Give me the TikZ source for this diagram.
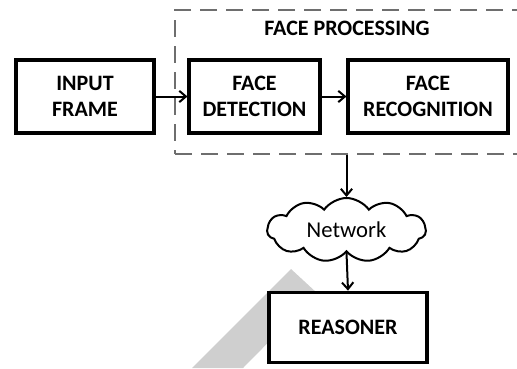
\documentclass[tikz,border=0pt]{standalone}
\usepackage{fontspec}
\setmainfont{Carlito}
\usetikzlibrary{arrows.meta,shapes.symbols}
\begin{document}
\begin{tikzpicture}[x=0.75pt,y=-0.75pt,
  blk/.style={draw=black,line width=2.3pt,fill=white,align=center,font=\bfseries\fontsize{16.5}{20}\selectfont,inner sep=0pt,minimum height=54.75pt},
  arr/.style={line width=1.5pt,-{Straight Barb[length=5pt,width=8.5pt,line width=1.5pt]}},
  grp/.style={draw=black!57,line width=2.1pt,dash pattern=on 13pt off 6.5pt,inner sep=0pt},
  wm/.style={fill=black!19,draw=none}]
\useasboundingbox (0,0) rectangle (517,368);
\clip (0,0) rectangle (517,368);
% watermark band
\fill[wm] (192,368) -- (291,269) -- (317,293) -- (243,368) -- cycle;
% group frame
\node[grp,minimum width=273.75pt,minimum height=108pt] (proc) at (357.5,82) {};
\node[font=\bfseries\fontsize{16.5}{20}\selectfont] (title) at (347,28) {FACE PROCESSING};
% blocks
\node[blk,minimum width=103.5pt] (input) at (85,96.5) {INPUT\\FRAME};
\node[blk,minimum width=98.25pt] (det) at (254.5,96.5) {FACE\\DETECTION};
\node[blk,minimum width=120pt] (rec) at (428,96.5) {FACE\\RECOGNITION};
\node[draw=black,line width=1.5pt,fill=white,cloud,cloud puffs=11,cloud puff arc=110,aspect=2.6,minimum width=119pt,minimum height=48pt,inner sep=0pt,font=\fontsize{17}{19}\selectfont] (net) at (346.5,230) {Network};
\node[blk,minimum width=118.5pt,minimum height=53pt] (reas) at (348,327.5) {REASONER};
% connectors
\draw[arr] (input.east) -- (det.west);
\draw[arr] (det.east) -- (rec.west);
\draw[arr] (proc.south -| net.north) -- (net.north);
\draw[arr] (net.south) -- (reas.north);
\end{tikzpicture}
\end{document}
